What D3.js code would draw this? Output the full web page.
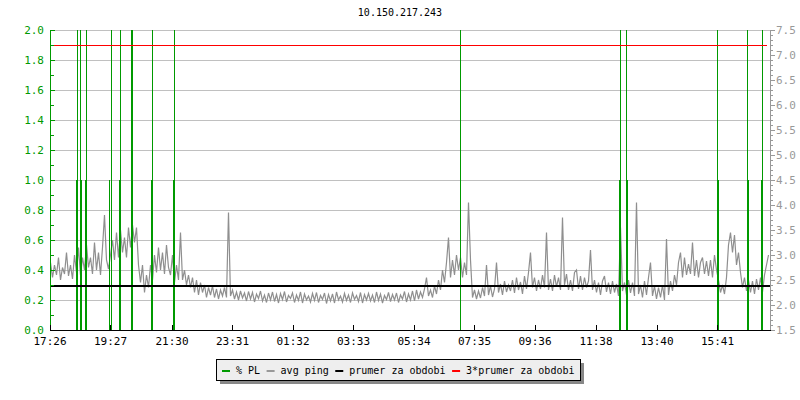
<!DOCTYPE html>
<html><head><meta charset="utf-8">
<script src="https://cdn.jsdelivr.net/npm/d3@7"></script>
<style>
html,body{margin:0;padding:0;background:#fff;}
svg{display:block;font-family:"DejaVu Sans Mono",monospace;font-size:10px;}
</style></head>
<body>
<svg id="c" width="800" height="400"></svg>
<script>
const title = "10.150.217.243";
const xTickMinutes = [0,121,244,365,486,607,728,849,970,1092,1214,1335];
const xTickLabels = ["17:26","19:27","21:30","23:31","01:32","03:33","05:34","07:35","09:36","11:38","13:40","15:41"];
const leftTicks = [0,0.2,0.4,0.6,0.8,1.0,1.2,1.4,1.6,1.8,2.0];
const rightTicks = [1.5,2.0,2.5,3.0,3.5,4.0,4.5,5.0,5.5,6.0,6.5,7.0,7.5];
const sampleStep = 4; // minutes between avg ping samples
const avgPing = [
2.85,2.55,2.80,2.60,2.95,2.50,2.75,2.62,3.05,2.58,
2.80,2.52,3.00,2.65,3.15,2.60,2.95,2.70,3.20,2.75,
2.95,2.62,3.25,2.70,3.05,2.60,3.15,3.80,2.90,2.72,
3.00,3.30,2.90,3.45,2.95,3.50,3.05,3.35,2.95,3.55,
3.15,3.60,3.25,3.55,2.80,2.45,2.80,2.25,2.60,2.35,
2.80,2.50,3.00,2.65,3.15,2.70,3.05,2.62,3.20,2.75,
2.60,3.00,2.45,2.80,2.50,3.45,2.50,2.70,2.40,2.60,
2.35,2.55,2.25,2.50,2.20,2.45,2.25,2.40,2.15,2.35,
2.20,2.38,2.15,2.32,2.12,2.30,2.18,2.35,2.15,3.85,
2.18,2.30,2.12,2.26,2.10,2.28,2.14,2.24,2.08,2.27,
2.12,2.25,2.06,2.22,2.13,2.28,2.08,2.20,2.05,2.24,
2.10,2.26,2.07,2.21,2.04,2.23,2.11,2.27,2.06,2.19,
2.13,2.24,2.05,2.20,2.09,2.26,2.04,2.22,2.10,2.18,
2.06,2.23,2.09,2.25,2.05,2.19,2.11,2.24,2.03,2.21,
2.08,2.22,2.04,2.26,2.10,2.18,2.06,2.23,2.09,2.20,
2.05,2.24,2.11,2.19,2.07,2.25,2.04,2.21,2.10,2.23,
2.08,2.20,2.05,2.26,2.09,2.22,2.04,2.19,2.11,2.25,
2.07,2.21,2.10,2.24,2.05,2.20,2.12,2.27,2.06,2.22,
2.10,2.28,2.08,2.30,2.12,2.26,2.15,2.32,2.55,2.18,
2.30,2.15,2.38,2.22,2.50,2.30,2.70,2.45,2.85,3.35,
2.55,2.90,2.60,3.00,2.70,2.95,2.55,2.85,2.60,4.05,
2.90,2.15,2.30,2.12,2.28,2.14,2.35,2.18,2.80,2.20,
2.38,2.16,2.32,2.85,2.25,2.42,2.20,2.48,2.26,2.40,
2.28,2.50,2.24,2.55,2.30,2.46,2.22,2.58,2.32,2.65,
3.05,2.35,2.55,2.28,2.50,2.32,2.60,2.35,3.45,2.30,
2.52,2.28,2.60,2.36,2.55,2.30,3.75,2.40,2.62,2.30,
2.50,2.28,2.65,2.70,2.32,2.58,2.30,2.55,2.35,2.48,
3.10,2.30,2.50,2.25,2.45,2.20,2.48,2.58,2.26,2.45,
2.22,2.48,2.25,2.42,2.18,3.55,2.28,2.45,2.20,2.50,
2.24,2.45,2.18,4.05,2.22,2.40,2.15,2.48,2.20,2.55,
2.85,2.18,2.38,2.12,2.35,2.15,2.40,2.10,3.32,2.20,
2.48,2.28,2.60,2.40,2.85,3.05,2.55,2.95,2.60,2.82,
2.62,3.25,2.58,2.90,2.55,2.85,2.95,2.62,2.88,2.58,
2.90,2.55,3.00,2.70,2.50,2.25,2.40,2.22,2.55,3.20,
3.45,3.05,3.40,2.80,3.05,2.65,2.35,2.55,2.28,2.50,
2.25,2.48,2.22,2.52,2.30,2.55,2.26,2.60,2.80,3.00
];
const plMinutes = [52,54,60,62,70,72,120,122,138,140,162,164,202,204,246,248,820,822,1140,1142,1152,1154,1334,1336,1394,1396,1422,1424];
const plValues  = [1,2,2,1,1,2,1,2,1,2,2,2,1,2,1,2,2,1,1,2,2,1,2,1,2,1,1,2];
const meanValue = 2.4;
const tripleMean = 7.2;
const legendLabels = ["% PL","avg ping","prumer za obdobi","3*prumer za obdobi"];
const legendColors = ["#009900","#999999","#000000","#ff0000"];

const svg = d3.select("#c");
const X0 = 50, X1 = 770, Y0 = 330, Y1 = 30;
const x = d3.scaleLinear().domain([0,1440]).range([X0,X1]);
const yL = d3.scaleLinear().domain([0,2]).range([Y0,Y1]);
const yR = d3.scaleLinear().domain([1.5,7.5]).range([Y0,Y1]);
const green = "#009900", gray = "#999999";

// title
svg.append("text").attr("x",400).attr("y",16).attr("text-anchor","middle").attr("fill","#000").text(title);

// grid
svg.append("g").selectAll("line").data(leftTicks.filter(d=>d>0)).join("line")
  .attr("x1",X0+5).attr("x2",X1).attr("y1",d=>Math.round(yL(d))+0.5).attr("y2",d=>Math.round(yL(d))+0.5)
  .attr("stroke","#c0c0c0").attr("stroke-width",1).attr("shape-rendering","crispEdges");

// avg ping
const line = d3.line().x((d,i)=>x(i*sampleStep)+0.5).y(d=>yR(d));
svg.append("path").datum(avgPing).attr("d",line).attr("fill","none").attr("stroke","#8f8f8f")
  .attr("stroke-width",1.2);

// packet loss
svg.append("g").selectAll("rect").data(plMinutes).join("rect")
  .attr("x",d=>Math.floor(x(d))).attr("width",1)
  .attr("y",(d,i)=>yL(Math.min(plValues[i],2))).attr("height",(d,i)=>Y0-yL(Math.min(plValues[i],2)))
  .attr("fill",green).attr("shape-rendering","crispEdges");

// mean lines
svg.append("line").attr("x1",X0).attr("x2",X1).attr("y1",yR(meanValue)+1).attr("y2",yR(meanValue)+1)
  .attr("stroke","#000").attr("stroke-width",2).attr("shape-rendering","crispEdges");
svg.append("line").attr("x1",X0).attr("x2",X1-3).attr("y1",Math.round(yR(tripleMean))+0.5).attr("y2",Math.round(yR(tripleMean))+0.5)
  .attr("stroke","#ff0000").attr("stroke-width",1).attr("shape-rendering","crispEdges");

// left axis
const gl = svg.append("g").attr("shape-rendering","crispEdges");
gl.append("line").attr("x1",X0+0.5).attr("x2",X0+0.5).attr("y1",Y1).attr("y2",Y0).attr("stroke",green);
const leftMinor = d3.range(0,21).map(d=>d/10);
gl.selectAll(".lt").data(leftMinor).join("line").attr("class","lt")
  .attr("x1",X0).attr("x2",(d,i)=>i%2===0?X0+5:X0+4)
  .attr("y1",d=>Math.round(yL(d))+0.5).attr("y2",d=>Math.round(yL(d))+0.5).attr("stroke",green);
svg.append("g").selectAll("text").data(leftTicks).join("text")
  .attr("x",44).attr("y",d=>yL(d)+4).attr("text-anchor","end").attr("fill",green)
  .attr("font-size","11px").text(d=>d.toFixed(1));

// right axis
const gr = svg.append("g").attr("shape-rendering","crispEdges");
gr.append("line").attr("x1",X1+0.5).attr("x2",X1+0.5).attr("y1",Y1).attr("y2",Y0).attr("stroke",gray);
const rightMinor = d3.range(15,76).map(d=>d/10);
gr.selectAll(".rt").data(rightMinor).join("line").attr("class","rt")
  .attr("x1",X1).attr("x2",(d,i)=>i%5===0?X1+5:X1+3)
  .attr("y1",d=>Math.round(yR(d))+0.5).attr("y2",d=>Math.round(yR(d))+0.5).attr("stroke",gray);
svg.append("g").selectAll("text").data(rightTicks).join("text")
  .attr("x",776).attr("y",d=>yR(d)+4).attr("text-anchor","start").attr("fill",gray)
  .attr("font-size","11px").text(d=>d.toFixed(1));

// bottom axis
const gb = svg.append("g").attr("shape-rendering","crispEdges");
gb.append("line").attr("x1",X0).attr("x2",X1+1).attr("y1",Y0+0.5).attr("y2",Y0+0.5).attr("stroke","#000");
gb.selectAll("line.bt").data(xTickMinutes).join("line").attr("class","bt")
  .attr("x1",d=>Math.floor(x(d))+0.5).attr("x2",d=>Math.floor(x(d))+0.5).attr("y1",Y0-5).attr("y2",Y0).attr("stroke","#000");
svg.append("g").selectAll("text").data(xTickMinutes).join("text")
  .attr("x",d=>x(d)).attr("y",345).attr("text-anchor","middle").attr("fill","#000")
  .attr("font-size","11px").text((d,i)=>xTickLabels[i]);

// legend
const lg = svg.append("g");
lg.append("rect").attr("x",220).attr("y",363).attr("width",364).attr("height",21).attr("fill","#888");
const box = lg.append("rect").attr("x",216.5).attr("y",359.5).attr("width",364).attr("height",21)
  .attr("fill","#eeeeee").attr("stroke","#000").attr("stroke-width",1);
let cx = 222;
legendLabels.forEach((lab,i)=>{
  lg.append("rect").attr("x",cx).attr("y",370).attr("width",8).attr("height",2).attr("fill",legendColors[i]);
  const t = lg.append("text").attr("x",cx+14).attr("y",374).attr("fill","#000").text(lab);
  const w = t.node().getComputedTextLength();
  cx = cx + 14 + w + 6.5;
});
</script>
</body></html>
